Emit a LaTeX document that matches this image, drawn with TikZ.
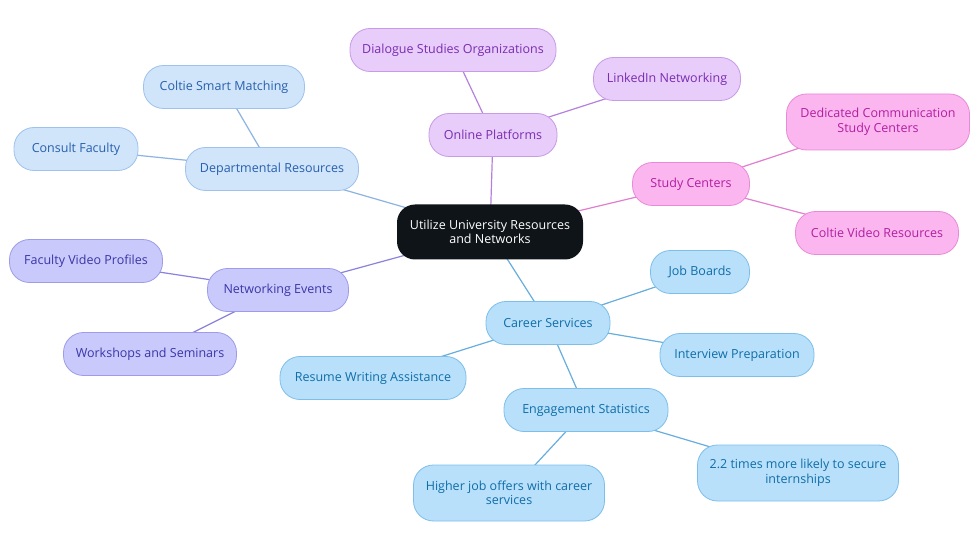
\documentclass[tikz,border=0pt]{standalone}
\usepackage{fontspec}
\setmainfont{Open Sans}
\usetikzlibrary{backgrounds}
\definecolor{cfill}{HTML}{0F1419}
\definecolor{bfill}{HTML}{D0E4FA}\definecolor{bdraw}{HTML}{9EC2EC}\definecolor{btext}{HTML}{2760AE}\definecolor{bline}{HTML}{8DB3E2}
\definecolor{sfill}{HTML}{B8E0FB}\definecolor{sdraw}{HTML}{7EBFEA}\definecolor{stext}{HTML}{106DA8}\definecolor{sline}{HTML}{68AEDD}
\definecolor{pfill}{HTML}{E8CCFA}\definecolor{pdraw}{HTML}{C79BE6}\definecolor{ptext}{HTML}{7A2DB0}\definecolor{pline}{HTML}{B482DD}
\definecolor{kfill}{HTML}{FBB6F0}\definecolor{kdraw}{HTML}{E78BD8}\definecolor{ktext}{HTML}{B21FA0}\definecolor{kline}{HTML}{E07FD0}
\definecolor{lfill}{HTML}{C9C9FB}\definecolor{ldraw}{HTML}{9C9CE8}\definecolor{ltext}{HTML}{3A36A8}\definecolor{lline}{HTML}{8A82DC}
\begin{document}
\begin{tikzpicture}[x=1pt,y=-1pt,
  pill/.style={rounded corners=20pt, minimum height=43pt, inner sep=0pt, line width=0.8pt,
     font=\fontsize{12.5}{14.5}\selectfont, align=center},
  bnode/.style={pill, fill=bfill, draw=bdraw, text=btext},
  snode/.style={pill, fill=sfill, draw=sdraw, text=stext},
  pnode/.style={pill, fill=pfill, draw=pdraw, text=ptext},
  knode/.style={pill, fill=kfill, draw=kdraw, text=ktext},
  lnode/.style={pill, fill=lfill, draw=ldraw, text=ltext},
  edge/.style={line width=1.2pt},
]
\useasboundingbox (0,0) rectangle (980,553);
\node[rounded corners=18pt, fill=cfill, text=white, minimum width=186pt, minimum height=55pt, inner sep=0pt, align=center, font=\fontsize{12.5}{14.5}\selectfont] (c) at (490,232) {Utilize University Resources\\and Networks};

\node[pnode, minimum width=128pt] (op) at (493,135) {Online Platforms};
\node[pnode, minimum width=206pt] (dso) at (453,50) {Dialogue Studies Organizations};
\node[pnode, minimum width=147pt] (li) at (667,79) {LinkedIn Networking};

\node[knode, minimum width=117pt] (sc) at (691,184) {Study Centers};
\node[knode, minimum width=183pt, minimum height=56pt] (dc) at (878,122) {Dedicated Communication\\Study Centers};
\node[knode, minimum width=163pt] (cv) at (877,233) {Coltie Video Resources};

\node[bnode, minimum width=173pt] (dr) at (272,169) {Departmental Resources};
\node[bnode, minimum width=161pt] (csm) at (224,87) {Coltie Smart Matching};
\node[bnode, minimum width=124pt] (cf) at (76,149) {Consult Faculty};

\node[lnode, minimum width=141pt] (ne) at (278,290) {Networking Events};
\node[lnode, minimum width=153pt] (fv) at (86,261) {Faculty Video Profiles};
\node[lnode, minimum width=173pt] (ws) at (150,354) {Workshops and Seminars};

\node[snode, minimum width=124pt] (cs) at (548,323) {Career Services};
\node[snode, minimum width=99pt] (jb) at (700,272) {Job Boards};
\node[snode, minimum width=154pt] (ip) at (737,355) {Interview Preparation};
\node[snode, minimum width=186pt] (rw) at (373,378) {Resume Writing Assistance};
\node[snode, minimum width=164pt] (es) at (586,410) {Engagement Statistics};
\node[snode, minimum width=191pt, minimum height=56pt] (hj) at (509,493) {Higher job offers with career\\services};
\node[snode, minimum width=201pt, minimum height=56pt] (tt) at (798,473) {2.2 times more likely to secure\\internships};

\begin{scope}[on background layer]
\fill[white] (0,0) rectangle (980,553);
\draw[edge, pline] (c.center) -- (op.center);
\draw[edge, pline] (op.center) -- (dso.center);
\draw[edge, pline] (op.center) -- (li.center);
\draw[edge, kline] (c.center) -- (sc.center);
\draw[edge, kline] (sc.center) -- (dc.center);
\draw[edge, kline] (sc.center) -- (cv.center);
\draw[edge, bline] (c.center) -- (dr.center);
\draw[edge, bline] (dr.center) -- (csm.center);
\draw[edge, bline] (dr.center) -- (cf.center);
\draw[edge, lline] (c.center) -- (ne.center);
\draw[edge, lline] (ne.center) -- (fv.center);
\draw[edge, lline] (ne.center) -- (ws.center);
\draw[edge, sline] (c.center) -- (cs.center);
\draw[edge, sline] (cs.center) -- (jb.center);
\draw[edge, sline] (cs.center) -- (ip.center);
\draw[edge, sline] (cs.center) -- (rw.center);
\draw[edge, sline] (cs.center) -- (es.center);
\draw[edge, sline] (es.center) -- (hj.center);
\draw[edge, sline] (es.center) -- (tt.center);
\end{scope}
\end{tikzpicture}
\end{document}
